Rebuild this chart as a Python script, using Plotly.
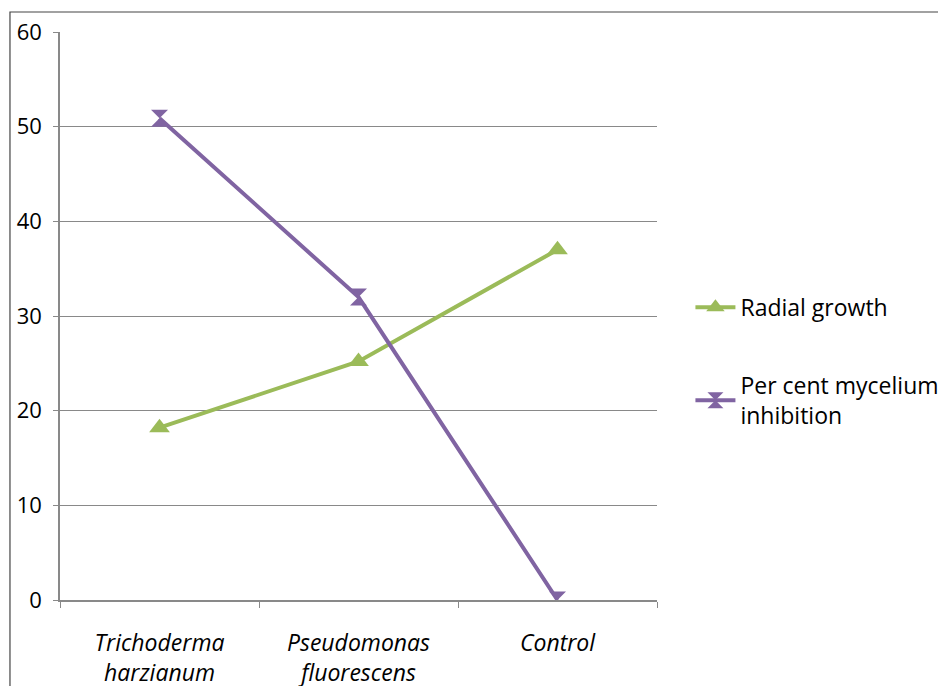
import plotly.graph_objects as go

categories = ["<i>Trichoderma<br>harzianum</i>", "<i>Pseudomonas<br>fluorescens</i>", "<i>Control</i>"]
radial_growth = [18.2, 25.2, 37.0]
mycelium_inhibition = [50.9, 32.0, 0.0]
y_ticks = [0, 10, 20, 30, 40, 50, 60]

GREEN = "#9BBB59"
PURPLE = "#8064A2"
GRID = "#898989"
FONT = "Open Sans, Noto Sans, sans-serif"

fig = go.Figure()
fig.add_trace(go.Scatter(
    x=[0, 1, 2], y=radial_growth, name="Radial growth", mode="lines+markers",
    legendgroup="g1",
    line=dict(color=GREEN, width=4),
    marker=dict(symbol="triangle-up", size=18, color=GREEN),
))
fig.add_trace(go.Scatter(
    x=[0, 1, 2], y=mycelium_inhibition, name="Per cent mycelium<br>inhibition",
    mode="lines+markers", legendgroup="g2",
    line=dict(color=PURPLE, width=4),
    marker=dict(symbol="hourglass", size=17, color=PURPLE),
))

fig.update_layout(
    width=938, height=686,
    margin=dict(l=60, r=281, t=32, b=86, autoexpand=False),
    paper_bgcolor="white", plot_bgcolor="white",
    font=dict(family=FONT, size=23, color="#000000"),
    showlegend=True,
    legend=dict(
        x=1.056, y=0.553, xanchor="left", yanchor="top",
        font=dict(size=23), tracegroupgap=45, itemwidth=40,
        bgcolor="rgba(0,0,0,0)",
    ),
    xaxis=dict(
        range=[-0.5, 2.5], tickmode="array", tickvals=[0, 1, 2], ticktext=categories,
        showgrid=False, zeroline=False, showline=True, linecolor=GRID, linewidth=1.5,
        ticks="", ticklabelstandoff=22, fixedrange=True, automargin=False,
        minor=dict(tickmode="array", tickvals=[-0.5, 0.5, 1.5, 2.5], ticks="outside",
                   ticklen=6, tickcolor=GRID, showgrid=False),
    ),
    yaxis=dict(
        range=[0, 60], tickmode="array", tickvals=y_ticks,
        showgrid=True, gridcolor=GRID, gridwidth=1.2, zeroline=False,
        showline=True, linecolor=GRID, linewidth=1.5, automargin=False,
        ticks="outside", ticklen=5, tickcolor=GRID, ticklabelstandoff=7,
        tickfont=dict(size=22),
    ),
)

# outer chart frame
fig.add_shape(type="rect", xref="paper", yref="paper",
              x0=-0.0838, y0=-0.4, x1=1.6, y1=1.0352,
              line=dict(color="#444444", width=1.2), layer="below")

fig.write_html("out.html")
